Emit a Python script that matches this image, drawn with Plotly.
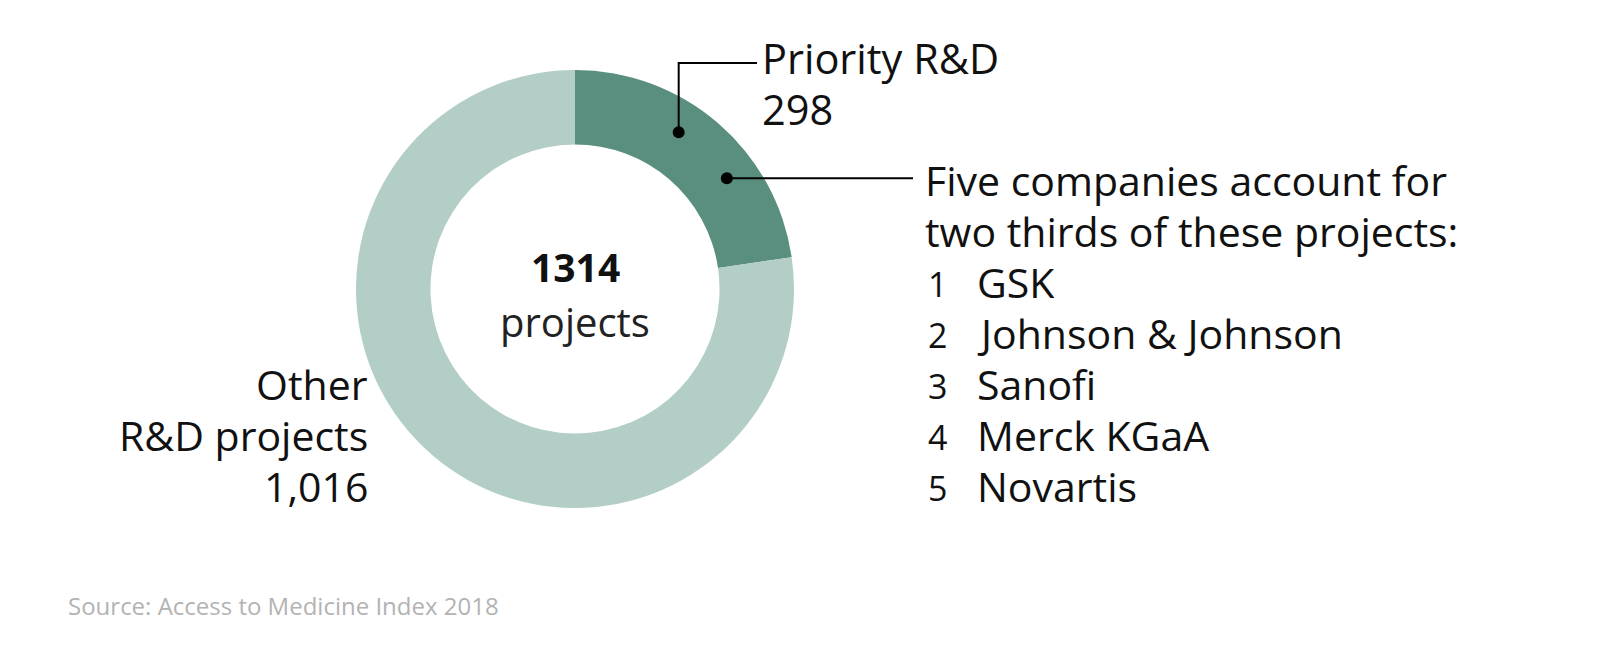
import math
import plotly.graph_objects as go

# ---- data ----
segment_labels = ["Priority R&D", "Other R&D projects"]
segment_values = [298, 1016]
total_projects = 1314
companies = ["GSK", "Johnson & Johnson", "Sanofi", "Merck KGaA", "Novartis"]
company_ranks = ["1", "2", "3", "4", "5"]
source_text = "Source: Access to Medicine Index 2018"

# ---- styles / geometry (page pixel space) ----
W, H = 1600, 650
PAD = 8  # default page body margin offsets the figure
CX, CY, R = 575, 289, 219
HOLE = 0.66
DARK = "#5a8e7f"
LIGHT = "#b3cec7"
FONT = "Open Sans"
TXT = "#111111"
FS = 41

dom_x = [(CX - PAD - R) / W, (CX - PAD + R) / W]
dom_y = [1 - (CY - PAD + R) / H, 1 - (CY - PAD - R) / H]

fig = go.Figure()
fig.add_trace(go.Pie(
    labels=segment_labels, values=segment_values, hole=HOLE,
    sort=False, direction="clockwise", rotation=0,
    marker=dict(colors=[DARK, LIGHT], line=dict(width=0)),
    textinfo="none", showlegend=False, domain=dict(x=dom_x, y=dom_y),
    hoverinfo="label+value",
))
# invisible helper trace to activate pixel axes
fig.add_trace(go.Scatter(x=[PAD], y=[PAD], mode="markers", marker=dict(opacity=0),
                         showlegend=False, hoverinfo="skip"))

# dot positions derived from the priority slice angle
slice_deg = 360 * segment_values[0] / sum(segment_values)
r_mid = 188
def pt(frac):
    a = math.radians(frac * slice_deg)
    return CX + r_mid * math.sin(a), CY - r_mid * math.cos(a)

d1 = pt(0.41)
d2 = pt(0.66)

LW = 2
shapes = []
top_y = 63
shapes.append(dict(type="path", xref="x", yref="y",
                   path=f"M {d1[0]},{d1[1]} L {d1[0]},{top_y} L 757,{top_y}",
                   line=dict(color="black", width=LW)))
shapes.append(dict(type="line", xref="x", yref="y", x0=d2[0], y0=d2[1], x1=913, y1=d2[1],
                   line=dict(color="black", width=LW)))
for d in (d1, d2):
    shapes.append(dict(type="circle", xref="x", yref="y", x0=d[0] - 6, x1=d[0] + 6,
                       y0=d[1] - 6, y1=d[1] + 6, fillcolor="black", line=dict(width=0)))

ann = []
def text(x, y, s, anchor="left", size=FS, color=TXT, family=FONT):
    ann.append(dict(x=x, y=y, xref="x", yref="y", text=s, showarrow=False,
                    xanchor=anchor, yanchor="middle",
                    font=dict(family=family, size=size, color=color)))

LS = 51
OFF = -1
# Priority label
text(760, 59 + OFF, segment_labels[0], size=41.5)
text(760, 110 + OFF, f"{segment_values[0]:,}", size=41.5)
# Right block
text(923, 180.6 + OFF, "Five companies account for")
text(923, 180.6 + LS + OFF, "two thirds of these projects:")
for i, (rk, c) in enumerate(zip(company_ranks, companies)):
    y = 180.6 + LS * (i + 2) + OFF
    text(926, y + 2, rk, size=34)
    text(975, y, c)
# Left block
text(370, 386.7 + OFF - 2, "Other", anchor="right")
text(370, 386.7 + LS + OFF - 2, "R&D projects", anchor="right")
text(370, 386.7 + 2 * LS + OFF - 2, f"{segment_values[1]:,}", anchor="right")
# centre
text(CX, 266, f"<b>{total_projects}</b>", anchor="center", size=39)
text(CX, 321, "projects", anchor="center", size=40, color="#222222")
# source
text(66, 605, source_text, size=24, color="#b3b3b3")

fig.update_layout(
    width=W, height=H, margin=dict(l=0, r=0, t=0, b=0),
    paper_bgcolor="white", plot_bgcolor="rgba(0,0,0,0)",
    xaxis=dict(range=[PAD, W + PAD], visible=False, fixedrange=True),
    yaxis=dict(range=[H + PAD, PAD], visible=False, fixedrange=True),
    shapes=shapes, annotations=ann, showlegend=False,
)
fig.write_html("out.html")
